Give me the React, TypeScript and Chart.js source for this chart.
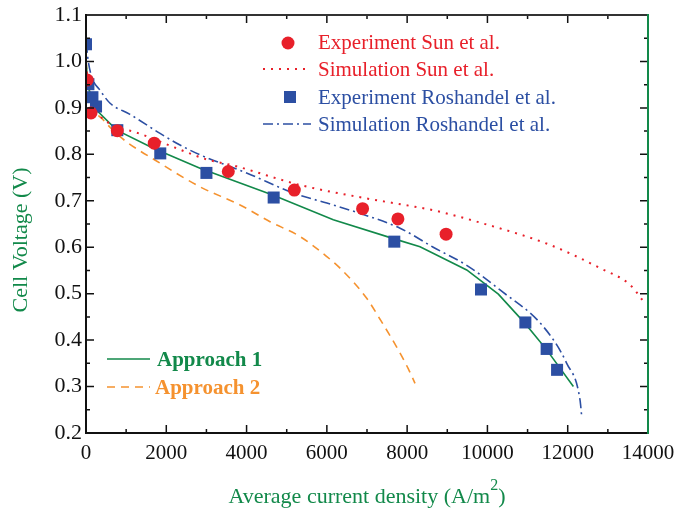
import React, { useEffect, useRef } from 'react';
import { Chart, registerables } from 'chart.js';

Chart.register(...registerables);

// Experiment Sun et al. (red circles)
const sunExpX = [30, 125, 780, 1700, 3545, 5190, 6890, 7770, 8970];
const sunExpY = [0.960, 0.889, 0.851, 0.824, 0.763, 0.723, 0.683, 0.661, 0.628];

// Experiment Roshandel et al. (blue squares)
const roshExpX = [0, 60, 160, 250, 780, 1850, 3000, 4675, 7680, 9840, 10945, 11475, 11735];
const roshExpY = [1.037, 0.951, 0.923, 0.903, 0.852, 0.802, 0.760, 0.707, 0.612, 0.509, 0.438, 0.381, 0.336];

// Simulation Sun et al. (red dotted)
const sunSimX = [0, 60, 183, 300, 500, 780, 1179, 2200, 3007, 3670, 5331, 6993, 8072, 8736, 9898, 11560, 12805, 13553, 13926];
const sunSimY = [0.995, 0.95, 0.924, 0.89, 0.872, 0.857, 0.849, 0.815, 0.789, 0.776, 0.734, 0.705, 0.689, 0.678, 0.651, 0.605, 0.555, 0.519, 0.479];

// Simulation Roshandel et al. (blue dash-dot)
const roshSimX = [0, 30, 57, 150, 349, 600, 1096, 1845, 2342, 2840, 4000, 5190, 6000, 6890, 7823, 8650, 9484, 10314, 11393, 11975, 12307, 12349];
const roshSimY = [1.04, 1.02, 1.0, 0.965, 0.938, 0.91, 0.886, 0.845, 0.82, 0.799, 0.76, 0.716, 0.695, 0.671, 0.641, 0.600, 0.561, 0.508, 0.429, 0.350, 0.271, 0.235];

// Approach 1 (green solid)
const app1X = [0, 50, 130, 266, 765, 1677, 2840, 4667, 6160, 7680, 8321, 9484, 10272, 10937, 11477, 12141];
const app1Y = [1.0, 0.95, 0.92, 0.895, 0.852, 0.813, 0.770, 0.712, 0.659, 0.618, 0.601, 0.551, 0.499, 0.436, 0.379, 0.300];

// Approach 2 (orange dashed)
const app2X = [0, 60, 200, 432, 847, 1844, 2840, 3837, 4584, 5331, 5997, 6328, 6993, 7324, 7740, 8030, 8196];
const app2Y = [1.0, 0.95, 0.9, 0.874, 0.838, 0.781, 0.730, 0.691, 0.655, 0.623, 0.580, 0.555, 0.490, 0.445, 0.385, 0.338, 0.307];

const xTickStep = 2000;
const yTickStep = 0.1;

const RED = '#e8202a';
const BLUE = '#2c4fa3';
const GREEN = '#12894a';
const ORANGE = '#f5922f';
const SERIF = '"Liberation Serif", "Times New Roman", serif';

const pts = (xs: number[], ys: number[]) => xs.map((x, i) => ({ x, y: ys[i] }));

export default function App() {
  const ref = useRef<HTMLCanvasElement>(null);

  useEffect(() => {
    const canvas = ref.current!;
    const overlay = {
      id: 'overlay',
      afterDraw(chart: any) {
        const ctx = chart.ctx as CanvasRenderingContext2D;
        const xs = chart.scales.x;
        const ys = chart.scales.y;
        const { left, right, top, bottom } = chart.chartArea;
        ctx.save();
        // ticks
        ctx.lineWidth = 1.5;
        ctx.strokeStyle = '#111';
        for (let v = 0; v <= 14000; v += 1000) {
          const px = xs.getPixelForValue(v);
          const len = v % 2000 === 0 ? 8 : 4;
          ctx.beginPath();
          ctx.moveTo(px, bottom);
          ctx.lineTo(px, bottom - len);
          ctx.moveTo(px, top);
          ctx.lineTo(px, top + len);
          ctx.stroke();
        }
        for (let i = 0; i <= 18; i++) {
          const v = 0.2 + i * 0.05;
          const py = ys.getPixelForValue(v);
          const len = i % 2 === 0 ? 8 : 4;
          ctx.beginPath();
          ctx.moveTo(left, py);
          ctx.lineTo(left + len, py);
          ctx.moveTo(right, py);
          ctx.lineTo(right - len, py);
          ctx.stroke();
        }
        // frame
        ctx.lineWidth = 2;
        ctx.strokeStyle = '#333';
        ctx.beginPath();
        ctx.moveTo(left, top);
        ctx.lineTo(right, top);
        ctx.stroke();
        ctx.strokeStyle = '#111';
        ctx.beginPath();
        ctx.moveTo(left, top - 1);
        ctx.lineTo(left, bottom);
        ctx.lineTo(right, bottom);
        ctx.stroke();
        ctx.strokeStyle = GREEN;
        ctx.beginPath();
        ctx.moveTo(right, top - 1);
        ctx.lineTo(right, bottom + 1);
        ctx.stroke();

        // axis titles
        ctx.fillStyle = GREEN;
        ctx.font = `22px ${SERIF}`;
        ctx.textBaseline = 'alphabetic';
        ctx.save();
        ctx.translate(27, 240);
        ctx.rotate(-Math.PI / 2);
        ctx.textAlign = 'center';
        ctx.fillText('Cell Voltage (V)', 0, 0);
        ctx.restore();

        const main = 'Average current density (A/m';
        const sup = '2';
        const close = ')';
        ctx.font = `22px ${SERIF}`;
        const w1 = ctx.measureText(main).width;
        const w3 = ctx.measureText(close).width;
        ctx.font = `16px ${SERIF}`;
        const w2 = ctx.measureText(sup).width;
        const total = w1 + w2 + w3;
        const sx = (left + right) / 2 - total / 2;
        ctx.textAlign = 'left';
        ctx.font = `22px ${SERIF}`;
        ctx.fillText(main, sx, 503);
        ctx.font = `16px ${SERIF}`;
        ctx.fillText(sup, sx + w1, 490);
        ctx.font = `22px ${SERIF}`;
        ctx.fillText(close, sx + w1 + w2, 503);

        // legend top right
        ctx.font = `21px ${SERIF}`;
        ctx.textAlign = 'left';
        ctx.fillStyle = RED;
        ctx.beginPath();
        ctx.arc(288, 43, 6.5, 0, Math.PI * 2);
        ctx.fill();
        ctx.fillText('Experiment Sun et al.', 318, 49);
        ctx.strokeStyle = RED;
        ctx.lineWidth = 2;
        ctx.setLineDash([2, 6]);
        ctx.beginPath();
        ctx.moveTo(263, 69);
        ctx.lineTo(311, 69);
        ctx.stroke();
        ctx.fillText('Simulation Sun et al.', 318, 76);

        ctx.fillStyle = BLUE;
        ctx.fillRect(284, 91, 12, 12);
        ctx.fillText('Experiment Roshandel et al.', 318, 104);
        ctx.strokeStyle = BLUE;
        ctx.lineWidth = 1.6;
        ctx.setLineDash([10, 4, 2, 4]);
        ctx.beginPath();
        ctx.moveTo(263, 124);
        ctx.lineTo(311, 124);
        ctx.stroke();
        ctx.fillText('Simulation Roshandel et al.', 318, 131);

        // legend bottom left
        ctx.font = `bold 21px ${SERIF}`;
        ctx.setLineDash([]);
        ctx.strokeStyle = GREEN;
        ctx.fillStyle = GREEN;
        ctx.beginPath();
        ctx.moveTo(107, 359);
        ctx.lineTo(150, 359);
        ctx.stroke();
        ctx.fillText('Approach 1', 157, 366);
        ctx.strokeStyle = ORANGE;
        ctx.fillStyle = ORANGE;
        ctx.setLineDash([8, 6]);
        ctx.beginPath();
        ctx.moveTo(107, 387);
        ctx.lineTo(150, 387);
        ctx.stroke();
        ctx.fillText('Approach 2', 155, 394);
        ctx.restore();
      },
    };

    const chart = new Chart(canvas, {
      type: 'scatter',
      data: {
        datasets: [
          {
            label: 'Experiment Sun et al.',
            data: pts(sunExpX, sunExpY),
            showLine: false,
            pointStyle: 'circle',
            pointRadius: 6.5,
            backgroundColor: RED,
            borderWidth: 0,
          },
          {
            label: 'Experiment Roshandel et al.',
            data: pts(roshExpX, roshExpY),
            showLine: false,
            pointStyle: 'rect',
            pointRadius: 8.5,
            backgroundColor: BLUE,
            borderWidth: 0,
          },
          {
            label: 'Simulation Sun et al.',
            data: pts(sunSimX, sunSimY),
            showLine: true,
            pointRadius: 0,
            borderColor: RED,
            borderWidth: 2,
            borderDash: [2, 6],
            cubicInterpolationMode: 'monotone',
          },
          {
            label: 'Simulation Roshandel et al.',
            data: pts(roshSimX, roshSimY),
            showLine: true,
            pointRadius: 0,
            borderColor: BLUE,
            borderWidth: 1.6,
            borderDash: [10, 4, 2, 4],
            cubicInterpolationMode: 'monotone',
          },
          {
            label: 'Approach 1',
            data: pts(app1X, app1Y),
            showLine: true,
            pointRadius: 0,
            borderColor: GREEN,
            borderWidth: 1.6,
          },
          {
            label: 'Approach 2',
            data: pts(app2X, app2Y),
            showLine: true,
            pointRadius: 0,
            borderColor: ORANGE,
            borderWidth: 1.6,
            borderDash: [8, 6],
            cubicInterpolationMode: 'monotone',
          },
        ],
      },
      options: {
        animation: false,
        responsive: false,
        devicePixelRatio: 1,
        events: [],
        layout: { padding: { left: 0, right: 27, top: 15, bottom: 0 } },
        plugins: { legend: { display: false }, tooltip: { enabled: false } },
        scales: {
          x: {
            type: 'linear',
            min: 0,
            max: 14000,
            grid: { display: false, drawTicks: false },
            border: { display: false },
            ticks: {
              stepSize: xTickStep,
              color: '#111',
              font: { family: SERIF, size: 21 },
              padding: 8,
              callback: (v: any) => String(v),
            },
            afterFit: (s: any) => { s.height = 80; s.paddingLeft = 0; s.paddingRight = 0; },
          },
          y: {
            type: 'linear',
            min: 0.2,
            max: 1.1,
            grid: { display: false, drawTicks: false },
            border: { display: false },
            ticks: {
              stepSize: yTickStep,
              color: '#111',
              font: { family: SERIF, size: 22 },
              padding: 4,
              callback: (v: any) => Number(v).toFixed(1),
            },
            afterFit: (s: any) => { s.width = 86; s.paddingTop = 0; s.paddingBottom = 0; },
          },
        },
      },
      plugins: [overlay],
    });
    return () => chart.destroy();
  }, []);

  return (
    <div style={{ position: 'absolute', left: 0, top: 0, width: 675, height: 513, background: '#fff' }}>
      <canvas ref={ref} width={675} height={513} style={{ display: 'block', width: 675, height: 513 }} />
    </div>
  );
}
